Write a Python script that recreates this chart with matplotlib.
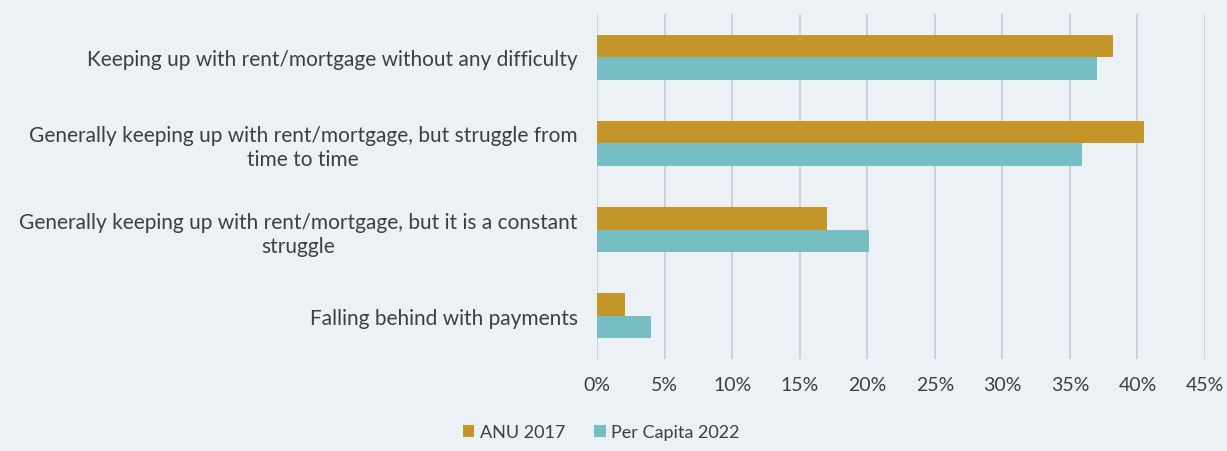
import numpy as np
import matplotlib.pyplot as plt
from matplotlib.ticker import PercentFormatter

# survey answers (top to bottom) and shares in percent
categories = [
    'Keeping up with rent/mortgage without any difficulty',
    'Generally keeping up with rent/mortgage, but struggle from\ntime to time',
    'Generally keeping up with rent/mortgage, but it is a constant\nstruggle',
    'Falling behind with payments',
]
anu_2017 = [38.2, 40.5, 17.0, 2.1]
per_capita_2022 = [37.0, 35.9, 20.1, 4.0]
series_names = ['ANU 2017', 'Per Capita 2022']
xticks = [0, 5, 10, 15, 20, 25, 30, 35, 40, 45]

bg = '#ebf1f4'
gold = '#c4962a'
teal = '#77bdc4'
txt = '#3f3f3f'

plt.rcParams['font.family'] = ['Lato', 'DejaVu Sans']

fig = plt.figure(figsize=(12.27, 4.52), dpi=100, facecolor=bg)
ax = fig.add_axes([0.4866, 0.2035, 0.4955, 0.7633], facecolor=bg)

y = np.arange(len(categories))
h = 0.26
ax.barh(y - h / 2, anu_2017, height=h, color=gold, label=series_names[0], zorder=3)
ax.barh(y + h / 2, per_capita_2022, height=h, color=teal, label=series_names[1], zorder=3)

ax.set_ylim(len(categories) - 0.5, -0.5)
ax.set_xlim(0, 45)
ax.set_xticks(xticks)
ax.xaxis.set_major_formatter(PercentFormatter(decimals=0))
ax.set_yticks(y)
ax.set_yticklabels(categories)
for t in ax.get_yticklabels():
    t.set_multialignment('center')
    t.set_linespacing(1.25)

ax.grid(axis='x', color='#c9cfd4', linewidth=1.3, zorder=0)
for s in ax.spines.values():
    s.set_visible(False)
ax.tick_params(axis='both', length=0, labelcolor=txt)
ax.tick_params(axis='y', pad=14, labelsize=15)
ax.tick_params(axis='x', pad=12, labelsize=14)

fig.legend(loc='lower center', bbox_to_anchor=(0.49, -0.012), ncol=2, frameon=False,
           fontsize=13, labelcolor=txt, handlelength=0.65, handleheight=0.65,
           handletextpad=0.3, columnspacing=1.6)

fig.savefig('out.png', dpi=100, facecolor=bg)
